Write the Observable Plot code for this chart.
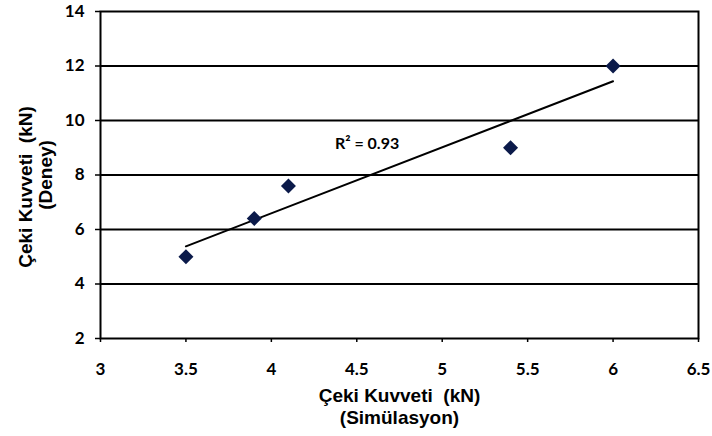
<!DOCTYPE html>
<html>
<head>
<meta charset="utf-8">
<script src="https://cdn.jsdelivr.net/npm/d3@7"></script>
<script src="https://cdn.jsdelivr.net/npm/@observablehq/plot@0.6"></script>
<style>
  html, body { margin: 0; padding: 0; background: #ffffff; }
</style>
</head>
<body>
<div id="chart"></div>
<script>
// Data
const simulasyon = [3.5, 3.9, 4.1, 5.4, 6.0];   // x: Çeki Kuvveti (kN) (Simülasyon)
const deney      = [5.0, 6.4, 7.6, 9.0, 12.0];  // y: Çeki Kuvveti (kN) (Deney)
const xTicks = [3, 3.5, 4, 4.5, 5, 5.5, 6, 6.5];
const yTicks = [2, 4, 6, 8, 10, 12, 14];
const gridY  = [4, 6, 8, 10, 12];
const xTitle = "Çeki Kuvveti  (kN)\n(Simülasyon)";
const yTitle1 = "Çeki Kuvveti  (kN)";
const yTitle2 = "(Deney)";
const r2Label = ["R² = 0.93"];
const r2X = [4.56];
const r2Y = [9.13];

const points = simulasyon.map((x, i) => ({x, y: deney[i]}));
const r2 = r2Label.map((t, i) => ({t, x: r2X[i], y: r2Y[i]}));

const titleFont = "'Liberation Sans', Arial, sans-serif";
const fmt = d => String(d);

const chart = Plot.plot({
  width: 712,
  height: 436,
  marginTop: 11,
  marginBottom: 98,
  marginLeft: 100,
  marginRight: 14,
  style: {fontFamily: "Lato, sans-serif", fontWeight: 700, fontSize: "16px", color: "black", background: "white"},
  x: {domain: [3, 6.5], ticks: xTicks},
  y: {domain: [2, 14], ticks: yTicks},
  marks: [
    Plot.ruleY(gridY, {stroke: "black", strokeWidth: 1.8}),
    Plot.axisX({ticks: xTicks, tickFormat: fmt, tickSize: 4, tickPadding: 20, label: null, fontSize: 17, fontWeight: 700, stroke: "black", strokeWidth: 1.5}),
    Plot.axisY({ticks: yTicks, tickFormat: fmt, tickSize: 5, tickPadding: 11, label: null, fontSize: 17, fontWeight: 700, stroke: "black", strokeWidth: 1.5}),
    Plot.frame({stroke: "black", strokeWidth: 2}),
    Plot.linearRegressionY(points, {x: "x", y: "y", stroke: "black", strokeWidth: 2, ci: 0}),
    Plot.dot(points, {x: "x", y: "y", symbol: "square", r: 6, rotate: 45, fill: "#0b1a4a", stroke: "none"}),
    Plot.text(r2, {x: "x", y: "y", text: "t", fontSize: 16, fontWeight: 700, fontFamily: "Lato, sans-serif", fill: "black"}),
    Plot.text([xTitle], {frameAnchor: "bottom", lineAnchor: "top", dy: 48, fontFamily: titleFont, fontSize: 19, fontWeight: "bold", lineHeight: 1.16, fill: "black"}),
    Plot.text([yTitle1], {frameAnchor: "left", textAnchor: "middle", rotate: -90, dx: -75, dy: 12, fontFamily: titleFont, fontSize: 19, fontWeight: "bold", fill: "black"}),
    Plot.text([yTitle2], {frameAnchor: "left", textAnchor: "middle", rotate: -90, dx: -55, dy: 0, fontFamily: titleFont, fontSize: 19, fontWeight: "bold", fill: "black"})
  ]
});

document.getElementById("chart").appendChild(chart);
</script>
</body>
</html>
